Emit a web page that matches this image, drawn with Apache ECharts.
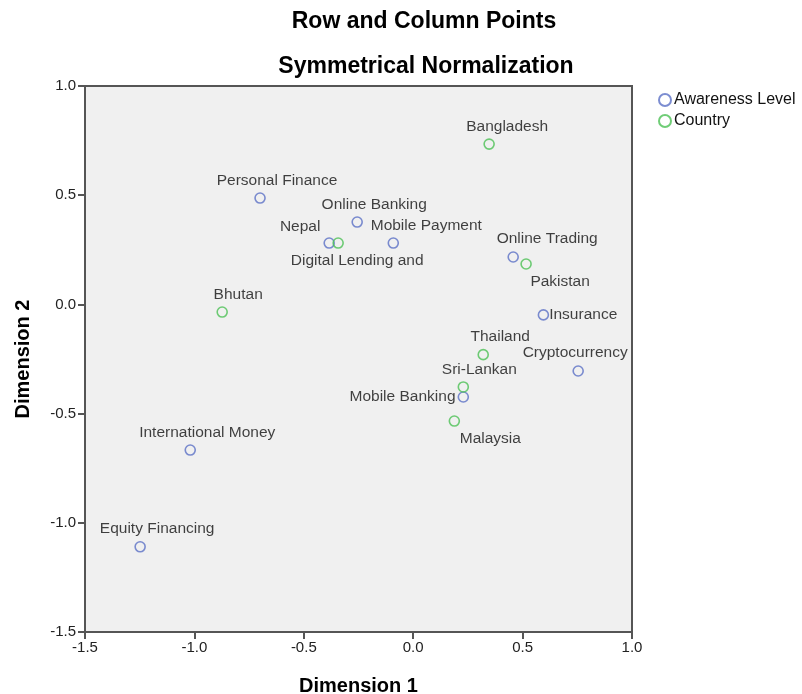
<html>
<head>
<meta charset="UTF-8">
<title>Row and Column Points</title>
<script src="https://cdn.jsdelivr.net/npm/echarts@6/dist/echarts.min.js"></script>
<style>html,body,#container{width:100%;height:100%;margin:0;padding:0;background:#fff;}</style>
</head>
<body>
<div id="container"></div>
<script>
// awareness level (row points)
var awarenessNames = ['Personal Finance', 'Online Banking', 'Digital Lending and', 'Mobile Payment', 'Online Trading',
	'Insurance', 'Cryptocurrency', 'Mobile Banking', 'International Money', 'Equity Financing'];
var awarenessX = [-0.70, -0.256, -0.384, -0.091, 0.457, 0.595, 0.754, 0.229, -1.019, -1.248];
var awarenessY = [0.487, 0.377, 0.281, 0.281, 0.217, -0.048, -0.305, -0.424, -0.667, -1.11];

// country (column points)
var countryNames = ['Bangladesh', 'Nepal', 'Pakistan', 'Bhutan', 'Thailand', 'Sri-Lankan', 'Malaysia'];
var countryX = [0.347, -0.343, 0.516, -0.873, 0.320, 0.229, 0.188];
var countryY = [0.734, 0.281, 0.185, -0.035, -0.23, -0.378, -0.534];

var xRange = [-1.5, 1.0];
var yRange = [-1.5, 1.0];

// label placement per point name: [position, dx, dy, distance]
var labelLayout = {
	'Personal Finance': ['top', 17, 0, 4],
	'Online Banking': ['top', 17, 0, 4],
	'Digital Lending and': ['bottom', 28, 0, 4],
	'Mobile Payment': ['top', 33, 0, 4],
	'Online Trading': ['top', 34, 0, 4],
	'Insurance': ['right', 0, 0, 0],
	'Cryptocurrency': ['top', -3, 0, 4],
	'Mobile Banking': ['left', 0, 0, 2],
	'International Money': ['top', 17, 0, 4],
	'Equity Financing': ['top', 17, 0, 4],
	'Bangladesh': ['top', 18, 0, 4],
	'Nepal': ['top', -38, 0, 3],
	'Pakistan': ['bottom', 34, 0, 4],
	'Bhutan': ['top', 16, 0, 4],
	'Thailand': ['top', 17, 0, 4],
	'Sri-Lankan': ['top', 16, 0, 3],
	'Malaysia': ['bottom', 36, 0, 4]
};

function buildPoints(names, xs, ys) {
	return names.map(function (n, i) {
		var lay = labelLayout[n];
		return {
			name: n,
			value: [xs[i], ys[i]],
			label: { position: lay[0], offset: [lay[1], lay[2]], distance: lay[3] }
		};
	});
}

var font = '"Liberation Sans", Arial, sans-serif';
var chart = echarts.init(document.getElementById('container'));
var option = {
	backgroundColor: '#fff',
	animation: false,
	textStyle: { fontFamily: font },
	title: [{
		text: 'Row and Column Points',
		left: 419, top: 5, textAlign: 'center',
		textStyle: { fontSize: 23, fontWeight: 'bold', color: '#000', fontFamily: font }
	}, {
		text: 'Symmetrical Normalization',
		left: 421, top: 50, textAlign: 'center',
		textStyle: { fontSize: 23, fontWeight: 'bold', color: '#000', fontFamily: font }
	}],
	legend: {
		orient: 'vertical', left: 653, top: 87,
		itemWidth: 12, itemHeight: 12, itemGap: 5,
		textStyle: { fontSize: 16, color: '#111', padding: [0, 0, 0, -2] },
		data: [
			{ name: 'Awareness Level', icon: 'circle' },
			{ name: 'Country', icon: 'circle' }
		]
	},
	grid: {
		left: 85, right: 170, top: 86, bottom: 62,
		outerBoundsMode: 'none',
		show: true, backgroundColor: '#f0f0f0', borderColor: '#555', borderWidth: 2
	},
	xAxis: {
		type: 'value', min: xRange[0], max: xRange[1], interval: 0.5,
		name: 'Dimension 1', nameLocation: 'middle', nameGap: 44,
		nameTextStyle: { fontSize: 20, fontWeight: 'bold', color: '#000' },
		axisLine: { show: true, onZero: false, lineStyle: { color: '#555', width: 2 } },
		axisTick: { show: true, length: 7, lineStyle: { color: '#555', width: 2 } },
		axisLabel: { color: '#222', fontSize: 15, margin: 8, formatter: function (v) { return v.toFixed(1); } },
		splitLine: { show: false }
	},
	yAxis: {
		type: 'value', min: yRange[0], max: yRange[1], interval: 0.5,
		name: 'Dimension 2', nameLocation: 'middle', nameGap: 52, nameRotate: 90,
		nameTextStyle: { fontSize: 20, fontWeight: 'bold', color: '#000' },
		axisLine: { show: true, onZero: false, lineStyle: { color: '#555', width: 2 } },
		axisTick: { show: true, length: 7, lineStyle: { color: '#555', width: 2 } },
		axisLabel: { color: '#222', fontSize: 15, margin: 9, formatter: function (v) { return v.toFixed(1); } },
		splitLine: { show: false }
	},
	series: [{
		name: 'Awareness Level',
		type: 'scatter',
		symbol: 'circle', symbolSize: 10,
		itemStyle: { color: 'rgba(0,0,0,0)', borderColor: '#5b70c6', borderWidth: 1.6 },
		label: { show: true, formatter: '{b}', color: '#111', fontSize: 15.5 },
		data: buildPoints(awarenessNames, awarenessX, awarenessY)
	}, {
		name: 'Country',
		type: 'scatter',
		symbol: 'circle', symbolSize: 10,
		itemStyle: { color: 'rgba(0,0,0,0)', borderColor: '#4cc155', borderWidth: 1.6 },
		label: { show: true, formatter: '{b}', color: '#111', fontSize: 15.5 },
		data: buildPoints(countryNames, countryX, countryY)
	}]
};
chart.setOption(option);
</script>
</body>
</html>
